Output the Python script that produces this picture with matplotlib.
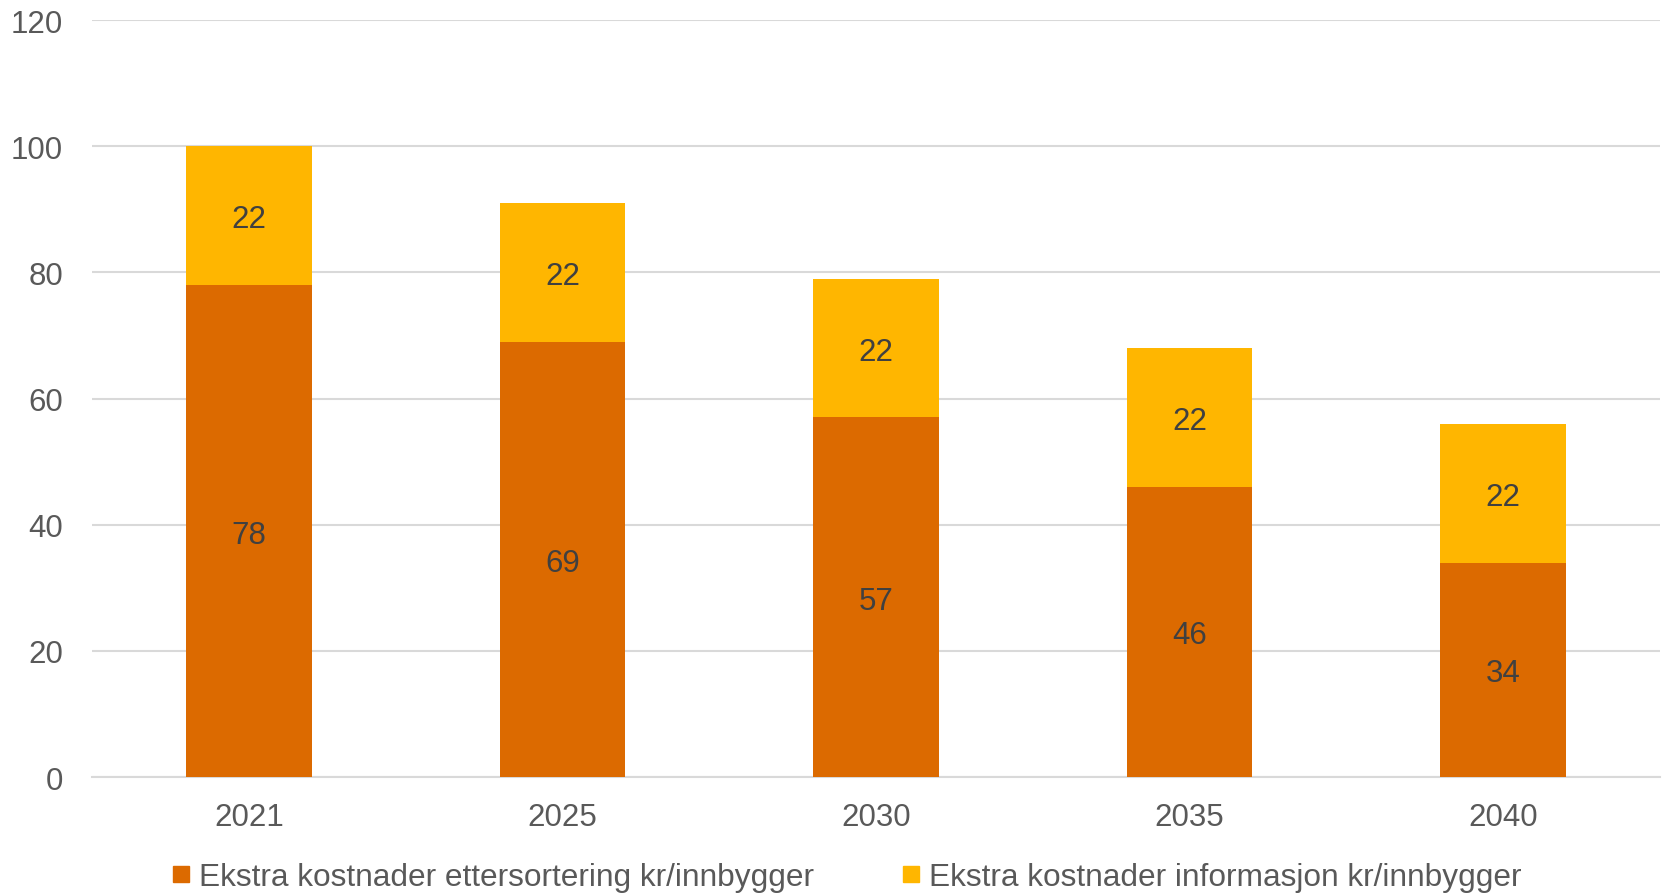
import matplotlib.pyplot as plt
from matplotlib.lines import Line2D
import numpy as np

plt.rcParams['font.family'] = ['Liberation Sans', 'DejaVu Sans']

# Data
years = ['2021', '2025', '2030', '2035', '2040']
ettersortering = [78, 69, 57, 46, 34]
informasjon = [22, 22, 22, 22, 22]

labels = ['Ekstra kostnader ettersortering kr/innbygger',
          'Ekstra kostnader informasjon kr/innbygger']
colors = ['#DC6A00', '#FFB600']

fig = plt.figure(figsize=(16.65, 8.95), dpi=100)
ax = fig.add_axes([0.0553, 0.1307, 0.9417, 0.8458])

x = np.arange(len(years))
ax.bar(x, ettersortering, width=0.4, color=colors[0], zorder=3)
ax.bar(x, informasjon, width=0.4, bottom=ettersortering, color=colors[1], zorder=3)

# value labels centred in each segment
for i in range(len(years)):
    lo, hi = ettersortering[i], informasjon[i]
    ax.text(x[i], lo / 2, str(lo), ha='center', va='center_baseline',
            fontsize=22.5, color='#404040', zorder=4)
    ax.text(x[i], lo + hi / 2, str(hi), ha='center', va='center_baseline',
            fontsize=22.5, color='#404040', zorder=4)

ax.set_xlim(-0.5, len(years) - 0.5)
ax.set_ylim(0, 120)
ax.set_yticks(range(0, 121, 20))
ax.set_xticks(x)
ax.set_xticklabels(years)
ax.tick_params(axis='both', length=0, labelsize=22.5, labelcolor='#595959')
ax.tick_params(axis='y', pad=21)
ax.tick_params(axis='x', pad=18)

ax.grid(axis='y', color='#D9D9D9', linewidth=1.5, zorder=0)
for s in ['top', 'right', 'left']:
    ax.spines[s].set_visible(False)
ax.spines['bottom'].set_color('#D9D9D9')
ax.spines['bottom'].set_linewidth(1.5)

handles = [Line2D([], [], marker='s', linestyle='none', markersize=11.5,
                  markerfacecolor=c, markeredgecolor=c) for c in colors]
fig.legend(handles, labels, loc='center', bbox_to_anchor=(0.5087, 0.019), ncol=2,
           frameon=False, fontsize=22.8, labelcolor='#595959',
           handlelength=0.55, handletextpad=0.3, columnspacing=2.8)

fig.savefig('out.png', dpi=100)
